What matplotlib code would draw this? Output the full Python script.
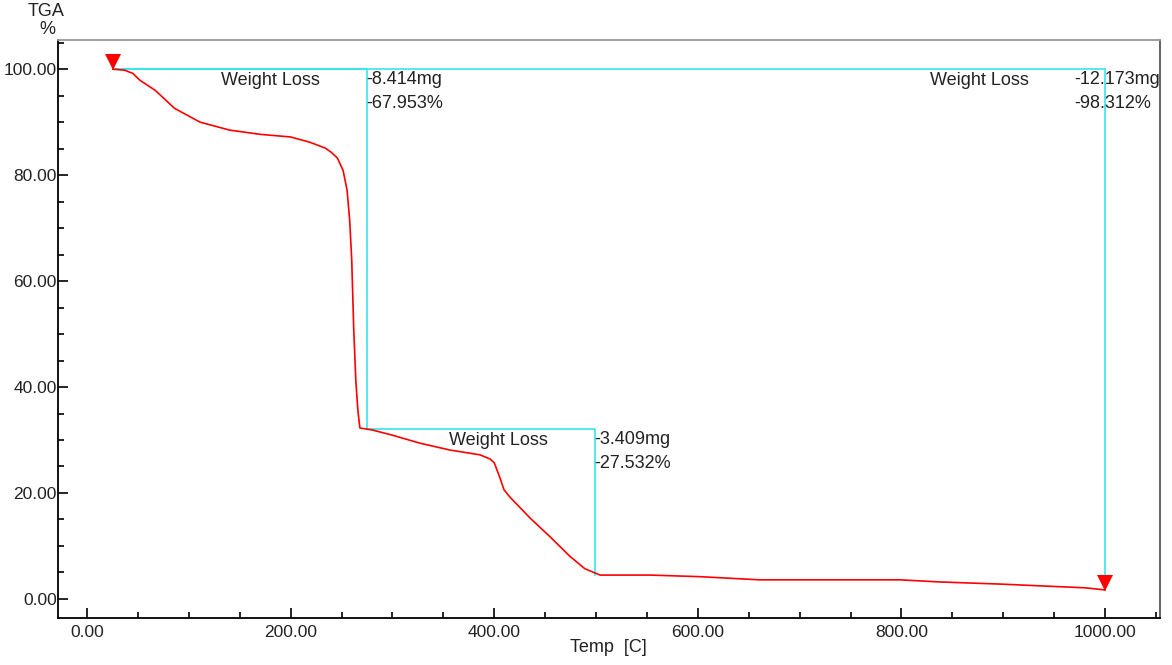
import matplotlib
matplotlib.use("Agg")
import matplotlib.pyplot as plt
from matplotlib.ticker import MultipleLocator, FormatStrFormatter

plt.rcParams['font.family'] = ['Liberation Sans', 'DejaVu Sans']

# TGA curve: temperature [C], weight [%]
temp = [25.5, 37, 45, 52, 67, 86, 111, 140, 170, 200, 219, 234, 240, 246,
        251.5, 255.4, 258, 260, 262, 264, 266, 268, 270, 280, 300, 327, 356.6,
        386, 396, 400, 405.7, 409.6, 415.5, 435, 455, 474, 489, 499, 504, 553,
        602, 641.5, 661, 798.6, 838, 897, 956, 980, 1000]
weight = [100, 99.8, 99.2, 97.9, 96, 92.6, 90, 88.5, 87.7, 87.2, 86.2, 85.1,
          84.3, 83.2, 80.9, 77.2, 71.5, 64, 50.8, 41.3, 35.7, 32.3, 32.2, 31.9,
          30.9, 29.4, 28.1, 27.2, 26.4, 25.7, 22.8, 20.6, 19.2, 15.3, 11.7, 8.1,
          5.7, 4.9, 4.5, 4.5, 4.2, 3.8, 3.6, 3.6, 3.2, 2.8, 2.3, 2.1, 1.7]

# weight-loss steps: (start T, end T), start %, loss %, loss mg
steps_t = [(25.5, 275), (275, 499), (25.5, 1000)]
steps_w0 = [100.0, 32.047, 100.0]
steps_loss = [67.953, 27.532, 98.312]
steps_mg = [8.414, 3.409, 12.173]

fig = plt.figure(figsize=(11.72, 6.65), dpi=100)
ax = fig.add_axes([0.0495, 0.0707, 0.9403, 0.8691])

ax.plot(temp, weight, color='#ff0000', lw=1.2, zorder=3)

# cyan step boxes
cyan = '#33e6f0'
for (t0, t1), w0, loss in zip(steps_t, steps_w0, steps_loss):
    w1 = w0 - loss
    ax.plot([t0, t1, t1], [w0, w0, w1], color=cyan, lw=1.2, zorder=2)

# start / end markers
for t, w in [(temp[0], weight[0]), (temp[-1], weight[-1])]:
    ax.plot([t], [w + 1.3], marker='v', color='#ff0000', markersize=11,
            markeredgewidth=0, zorder=4)

# annotation texts
label_pos = [(180, 97.9), (404, 29.9), (877, 97.9)]
value_x = [274, 498, 970]
for (lx, ly), vx, w0, loss, mg in zip(label_pos, value_x, steps_w0, steps_loss, steps_mg):
    ax.text(lx, ly, 'Weight Loss', ha='center', va='center', fontsize=13,
            color='#222222')
    ax.text(vx, w0 - 2.0, '-%.3fmg' % mg, ha='left', va='center',
            fontsize=13, color='#222222')
    ax.text(vx, w0 - 6.5, '-%.3f%%' % loss, ha='left', va='center',
            fontsize=13, color='#222222')

ax.set_xlim(-28.5, 1054)
ax.set_ylim(-3.6, 105.5)
ax.xaxis.set_major_locator(MultipleLocator(200))
ax.xaxis.set_minor_locator(MultipleLocator(50))
ax.yaxis.set_major_locator(MultipleLocator(20))
ax.yaxis.set_minor_locator(MultipleLocator(5))
ax.xaxis.set_major_formatter(FormatStrFormatter('%.2f'))
ax.yaxis.set_major_formatter(FormatStrFormatter('%.2f'))
ax.tick_params(which='major', direction='in', length=7, width=1.2,
               labelsize=12.5, color='black', labelcolor='#222222')
ax.tick_params(which='minor', direction='in', length=4, width=1.2)
ax.tick_params(axis='x', which='major', pad=5)
ax.tick_params(axis='y', which='major', pad=1)

for side in ['left', 'bottom']:
    ax.spines[side].set_color('black')
    ax.spines[side].set_linewidth(1.3)
ax.spines['right'].set_color('#555555')
ax.spines['right'].set_linewidth(1.3)
ax.spines['top'].set_color('#999999')
ax.spines['top'].set_linewidth(1.3)

fig.text(46 / 1172, 1 - 11 / 665, 'TGA', ha='center', va='center',
         fontsize=13, color='#222222')
fig.text(47 / 1172, 1 - 29 / 665, '%', ha='center', va='center',
         fontsize=13, color='#222222')
fig.text(608 / 1172, 1 - 648 / 665, 'Temp  [C]', ha='center', va='center',
         fontsize=13, color='#222222')

fig.savefig('out.png', dpi=100)
